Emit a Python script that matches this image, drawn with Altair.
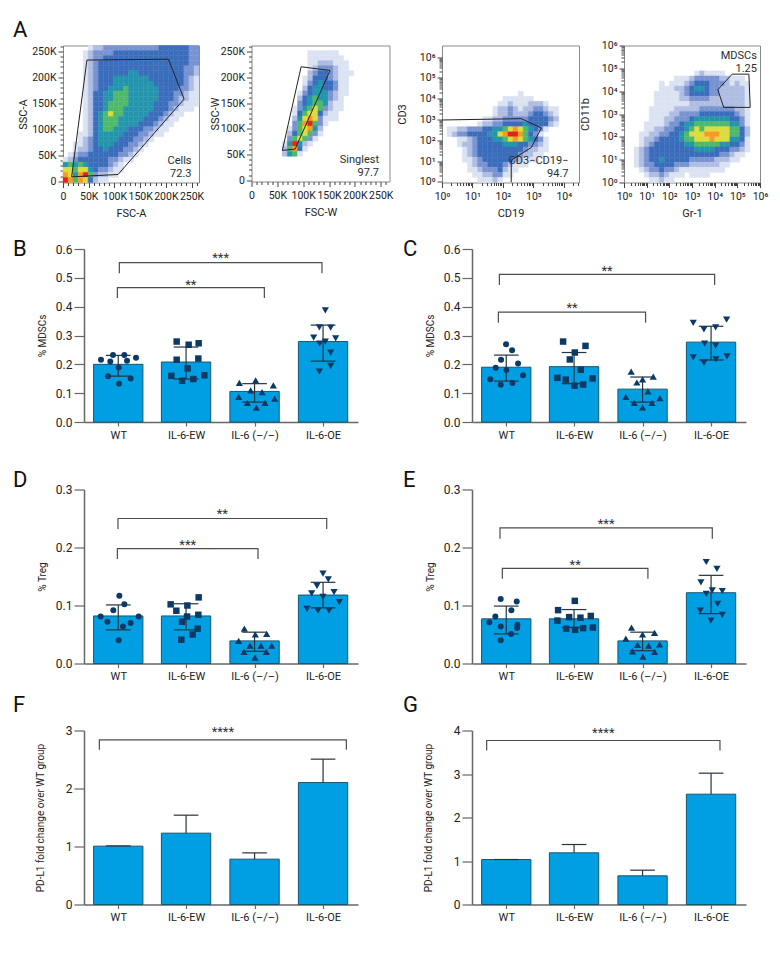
import altair as alt
import pandas as pd
import math

FONT = "Roboto"
groups = ["WT", "IL-6-EW", "IL-6 (–/–)", "IL-6-OE"]
centers = [0.5, 1.49, 2.49, 3.49]
shapes = ["circle", "square", "triangle-up", "triangle-down"]
sizes = [36, 42, 52, 52]
BAR = "#009fe3"; EDGE = "#17566f"; DOT = "#0b3a66"; AX = "#666666"; INK = "#2c2c2c"

# ---- bar panels: means, sd low, sd high
B_mean = [.200, .208, .106, .279]; B_lo = [.159, .149, .069, .211]; B_hi = [.231, .260, .133, .336]
C_mean = [.190, .192, .114, .277]; C_lo = [.142, .133, .069, .215]; C_hi = [.232, .241, .156, .332]
D_mean = [.082, .082, .039, .118]; D_lo = [.058, .058, .021, .096]; D_hi = [.101, .103, .054, .140]
E_mean = [.077, .077, .039, .122]; E_lo = [.051, .062, .022, .086]; E_hi = [.099, .093, .054, .152]
F_mean = [1.006, 1.23, .782, 2.103]; F_hi = [1.01, 1.54, .89, 2.506]
G_mean = [1.034, 1.188, .659, 2.536]; G_hi = [1.034, 1.379, .789, 3.019]

# ---- individual animals (x position within the axis, value), one list per group
B_x = [[.248,.384,.423,.589,.628,.759,.506,.350,.681,.511],
       [1.353,1.528,1.674,1.353,1.669,1.513,1.275,1.757,1.431,1.596],
       [2.268,2.506,2.764,2.433,2.599,2.258,2.783,2.384,2.642,2.516],
       [3.523,3.436,3.601,3.353,3.674,3.523,3.440,3.601,3.601,3.436]]
B_y = [[.216,.210,.232,.232,.212,.223,.189,.159,.151,.133],
       [.279,.268,.273,.216,.220,.186,.160,.162,.143,.149],
       [.136,.144,.127,.110,.104,.087,.081,.066,.066,.050],
       [.387,.328,.327,.293,.290,.279,.272,.241,.195,.175]]
C_x = [[.497,.585,.424,.672,.346,.502,.745,.268,.590,.419],
       [1.330,1.657,1.501,1.428,1.588,1.247,1.369,1.759,1.496,1.622],
       [2.324,2.490,2.646,2.407,2.568,2.246,2.743,2.368,2.626,2.490],
       [3.230,3.717,3.386,3.557,3.396,3.557,3.230,3.722,3.386,3.561]]
C_y = [[.270,.249,.216,.203,.188,.180,.162,.148,.135,.129],
       [.279,.264,.241,.217,.181,.153,.147,.151,.126,.130],
       [.175,.148,.157,.137,.106,.087,.083,.066,.066,.051],
       [.344,.355,.321,.328,.272,.265,.224,.228,.205,.217]]
D_x = [[.516,.589,.428,.243,.798,.341,.681,.569,.506],
       [1.674,1.265,1.509,1.348,1.669,1.504,1.431,1.659,1.586,1.421],
       [2.341,2.501,2.667,2.258,2.423,2.584,2.740,2.336,2.662,2.496],
       [3.489,3.567,3.401,3.324,3.650,3.489,3.727,3.255,3.416,3.577]]
D_y = [[.117,.102,.092,.081,.081,.072,.070,.064,.040],
       [.114,.102,.100,.091,.084,.081,.072,.060,.050,.041],
       [.060,.050,.051,.039,.031,.031,.031,.020,.020,.010],
       [.155,.145,.134,.121,.123,.115,.106,.094,.091,.091]]
E_x = [[.419,.653,.575,.341,.253,.663,.419,.658,.570,.419],
       [1.501,1.257,1.418,1.583,1.734,1.247,1.374,1.505,1.622,1.764],
       [2.329,2.490,2.665,2.246,2.417,2.577,2.738,2.343,2.665,2.494],
       [3.420,3.576,3.342,3.508,3.654,3.420,3.586,3.333,3.654,3.488]]
E_y = [[.111,.107,.092,.081,.071,.067,.064,.061,.051,.040],
       [.108,.092,.080,.079,.082,.074,.060,.058,.061,.062],
       [.062,.050,.053,.043,.032,.031,.033,.021,.020,.012],
       [.175,.163,.140,.126,.125,.120,.103,.091,.084,.074]]

# ---- significance brackets: x from, x to, y top, y drop, stars, star y
B_br = [(.516,3.474,.553,.516,"***",.569), (.487,2.633,.466,.430,"**",.476)]
C_br = [(.400,3.542,.512,.475,"**",.525), (.385,2.534,.381,.344,"**",.395)]
D_br = [(.496,3.543,.250,.232,"**",.257), (.487,2.540,.198,.180,"***",.205)]
E_br = [(.409,3.508,.234,.215,"***",.240), (.443,2.568,.164,.146,"**",.170)]
F_br = [(.224,3.830,2.84,2.667,"****",2.97)]
G_br = [(.214,3.620,3.77,3.54,"****",3.95)]

# ---- flow cytometry: event density, top row first (0 empty .. 9 red)
A1_rows = ["000001223333333333344444433","000012333344444444444444433","000012334444444444444444433",
"000012344444444444444444433","000012344444444444444444332","000012344444455444444444332",
"000012344455555554444444321","000012344455555555444444321","000012344555655555544443321",
"000012445566655555544433211","000012445566655555544432211","000012445666655555444332111",
"000012445666555555444321110","000012456766555554443211000","000012456665555544432110000",
"000012456665555444321100000","000012456655544433211000000","000112455555444332110000000",
"000123455554443321000000000","001123455544433210000000000","001223445444332100000000000",
"012334444443321000000000000","123444444332110000000000000","565654444321000000000000000",
"776775433211000000000000000","875896322110000000000000000","986874211000000000000000000"]
A2_rows = ["000000000000000000000000000","000000000001111110000000000","000000000001111111000000000",
"000000000001122211100000000","000000000001233321100000000","000000000002344321110000000",
"000000000012444321100000000","000000000013454431100000000","000000000024554431100000000",
"000000000134555321100000000","000000000245655321000000000","000000000345665211000000000",
"000000001356763211000000000","000000001467742110000000000","000000002578731110000000000",
"000000003689631000000000000","000000013678520000000000000","000000024676310000000000000",
"000000036763100000000000000","000000159521000000000000000","000000268410000000000000000",
"000000256100000000000000000"]
A3_rows = ["","","","","","","","","","000000000000000100000000000","000000000000111111000000000",
"000000000001121112221000000","000000000012232122332110000","000000000012232223443210000",
"000000001122333334444320000","000000012233444454444210000","011223334455678765431000000",
"012334444557899864310000000","000112344455678765431000000","000122344444555443321000000",
"000012344444444432211000000","000012344444444322110000000","000011234444443211100000000",
"000001233444321110000000000","000001123334211000000000000","000000112233110000000000000",
"000000011121000000000000000"]
A4_rows = ["","","","","","000000000000001211110000000","000000000011123333322111000",
"000000010111234443332121100","000000011122345543322222100","000000111112344443322222100",
"000000111112233332222222100","000000111111122222222222100","000001111122222333333322100",
"000001111223333444444432100","000001112233345555555443100","000011112334556666666553100",
"000011223344567677777664200","000112233445677788877664200","000122344445667778777554100",
"000123444444556666655443100","001234444444445555444332100","001234444444444444433211000",
"001234454444433333222110000","001233444433322222211000000","000123343321111111110000000",
"000012232111011110000000000","000001121100000000000000000"]
density_colors = ["#ffffff","#dbe2f2","#afbde2","#7893d2","#3a6dbb","#2395ad","#4fb96a","#dcdc3c","#f59a23","#e0261c"]

A1_gate = [(16800,8400),(46500,233000),(205000,234600),(235500,158000),(107000,12900),(16800,8400)]
A2_gate = [(59700,58000),(96000,220600),(152000,213500),(84400,60600),(59700,58000)]
A3_gate = [(1,942),(402,1093),(1835,387),(859,45),(188,11.1),(188,.93)]
A4_gate = [(13680,11500),(59000,55600),(323000,55600),(370000,1950),(25200,1950),(13680,11500)]

sup = ["10⁰","10¹","10²","10³","10⁴","10⁵","10⁶"]
LOG_LABEL = "[" + ",".join(f"'{s}'" for s in sup) + "][round(log(datum.value)/LN10)]"
K_LABEL = "datum.value==0?'0':(datum.value/1000)+'K'"

def letter(t, dx, dy):
    return alt.TitleParams(t, anchor="start", frame="group", orient="top", offset=0, dx=dx, dy=dy, fontSize=22,
                           font=FONT, fontWeight="normal", color="#111111")

def flow(rows, gate, notes, xdom, ydom, log, xtitle, ytitle, w, h, title, ypad, xmaj, ymaj, xmin, ymin):
    stype = "log" if log[1] else "linear"
    xtype = "log" if log[0] else "linear"
    xs = alt.Scale(domain=xdom, type=xtype, nice=False)
    ys = alt.Scale(domain=ydom, type=stype, nice=False)
    def edge(dom, isl, f):
        if isl:
            a, b = math.log10(dom[0]), math.log10(dom[1])
            return 10 ** (a + (b - a) * f)
        return dom[0] + (dom[1] - dom[0]) * f
    n = 27
    cells = []
    for r, row in enumerate(rows):
        for c, ch in enumerate(row):
            if ch != "0":
                cells.append(dict(x=edge(xdom, log[0], c / n), x2=edge(xdom, log[0], (c + 1) / n),
                                  y=edge(ydom, log[1], 1 - r / n), y2=edge(ydom, log[1], 1 - (r + 1) / n),
                                  c=density_colors[int(ch)]))
    xa = dict(title=xtitle, values=xmaj, tickSize=5, labelExpr=LOG_LABEL if log[0] else K_LABEL, titlePadding=5, labelPadding=4,
              orient="bottom", labelFontSize=10.5, domain=False, labelOverlap=False, labelFlush=False)
    ya = dict(title=ytitle, values=ymaj, tickSize=5, labelExpr=LOG_LABEL if log[1] else K_LABEL, titlePadding=ypad,
              orient="left", labelFontSize=10.5, domain=False, labelOverlap=False, labelFlush=False)
    rects = alt.Chart(pd.DataFrame(cells)).mark_rect(strokeWidth=.4).encode(
        x=alt.X("x:Q", scale=xs, axis=alt.Axis(**xa)), x2="x2:Q",
        y=alt.Y("y:Q", scale=ys, axis=alt.Axis(**ya)), y2="y2:Q",
        color=alt.Color("c:N", scale=None), stroke=alt.Stroke("c:N", scale=None))
    minor = alt.Chart(pd.DataFrame({"x": [xdom[0]], "y": [ydom[1]]})).mark_point(opacity=0).encode(
        x=alt.X("x:Q", scale=xs, axis=alt.Axis(title=None, values=xmin, tickSize=3, labels=False, domain=False, orient="bottom")),
        y=alt.Y("y:Q", scale=ys, axis=alt.Axis(title=None, values=ymin, tickSize=3, labels=False, domain=False, orient="left")))
    gdf = pd.DataFrame([dict(x=p[0], y=p[1], o=i) for i, p in enumerate(gate)])
    g = alt.Chart(gdf).mark_line(color="#222222", strokeWidth=1, clip=True).encode(
        x=alt.X("x:Q", scale=xs, axis=None), y=alt.Y("y:Q", scale=ys, axis=None), order="o:Q")
    t = alt.Chart(pd.DataFrame([dict(x=a, y=b, t=s) for a, b, s in notes])).mark_text(
        align="right", baseline="middle", font=FONT, fontSize=11, color=INK).encode(
        x=alt.X("x:Q", scale=xs, axis=None), y=alt.Y("y:Q", scale=ys, axis=None), text="t:N")
    return alt.layer(rects, minor, g, t, title=letter(*title) if title else alt.Undefined,
                     view=alt.ViewConfig(stroke="#8a8a8a", strokeWidth=1)).resolve_axis(
        x="independent", y="independent").properties(width=w, height=h)

def panel(mean, hi, lo, xs_pts, ys_pts, br, ymax, yvals, yfmt, ytitle, title, ypad, w=274, h=174, lead=0):
    xs = alt.Scale(domain=[0, 4], nice=False, range=[lead, w + lead])
    ys = alt.Scale(domain=[0, ymax], nice=False)
    label_expr = "datum.value<1?'%s':datum.value<2?'%s':datum.value<3?'%s':'%s'" % tuple(groups)
    bars = pd.DataFrame(dict(x=[c - .36 for c in centers], x2=[c + .36 for c in centers], y=mean, y0=[0] * 4))
    X = lambda f: alt.X(f, scale=xs)
    Y = lambda f: alt.Y(f, scale=ys)
    layers = [alt.Chart(bars).mark_rect(fill=BAR, stroke=EDGE, strokeWidth=1).encode(
        x=alt.X("x:Q", scale=xs, axis=alt.Axis(title=None, values=centers, labelExpr=label_expr, tickSize=4,
                                               domainColor=AX, tickColor=AX, domainWidth=1.5, tickWidth=1.2,
                                               labelFontSize=11, labelPadding=3, labelFlush=False, labelOverlap=False)),
        x2="x2:Q",
        y=alt.Y("y:Q", scale=ys, axis=alt.Axis(title=ytitle, values=yvals, format=yfmt, tickSize=10, domainColor=AX,
                                               tickColor=AX, domainWidth=1.5, tickWidth=1.2, labelFontSize=12,
                                               labelOverlap=False, labelFlush=False, tickCount=len(yvals), offset=-lead,
                                               titleFontSize=10, titleFontWeight="normal", titlePadding=ypad)),
        y2="y0:Q")]
    lows = lo if lo is not None else mean
    err = pd.DataFrame(dict(x=centers, a=lows, b=hi, l=[c - .18 for c in centers], r=[c + .18 for c in centers]))
    enc = dict(color=alt.value("#26343f"))
    layers.append(alt.Chart(err).mark_rule(strokeWidth=1.2).encode(x=X("x:Q"), y=Y("a:Q"), y2="b:Q", **enc))
    layers.append(alt.Chart(err).mark_rule(strokeWidth=1.2).encode(x=X("l:Q"), x2="r:Q", y=Y("b:Q"), **enc))
    if lo is not None:
        layers.append(alt.Chart(err).mark_rule(strokeWidth=1.2).encode(x=X("l:Q"), x2="r:Q", y=Y("a:Q"), **enc))
    if xs_pts is not None:
        for i in range(4):
            df = pd.DataFrame(dict(x=xs_pts[i], y=ys_pts[i]))
            layers.append(alt.Chart(df).mark_point(filled=True, shape=shapes[i], size=sizes[i], color=DOT, opacity=1).encode(
                x=X("x:Q"), y=Y("y:Q")))
    rows, stars = [], []
    for k, (a, b, top, drop, s, sy) in enumerate(br):
        for o, (px, py) in enumerate([(a, drop), (a, top), (b, top), (b, drop)]):
            rows.append(dict(x=px, y=py, o=o, k=k))
        stars.append(dict(x=(a + b) / 2, y=sy, t=s))
    layers.append(alt.Chart(pd.DataFrame(rows)).mark_line(color="#4d4d4d", strokeWidth=1.2).encode(
        x=X("x:Q"), y=Y("y:Q"), detail="k:N", order="o:Q"))
    layers.append(alt.Chart(pd.DataFrame(stars)).mark_text(font=FONT, fontSize=13, baseline="middle", color="#333333").encode(
        x=X("x:Q"), y=Y("y:Q"), text="t:N"))
    return alt.layer(*layers, title=letter(*title)).properties(width=w + lead, height=h)

k_major = [0, 50000, 100000, 150000, 200000, 250000]
k_minor = [v * 10000 for v in range(0, 27) if v % 5]
dec = [10 ** i for i in range(7)]
dec_minor = [m * 10 ** i for i in range(6) for m in range(2, 10)]

A1 = flow(A1_rows, A1_gate, [(250000, 39000, "Cells"), (250000, 13500, "72.3")], [0, 264500], [-2500, 261000],
          (False, False), "FSC-A", "SSC-A", 136, 137, ("A", -50, -1), 3, k_major, k_major,
          [v for v in k_minor if v < 264500], [v for v in k_minor if v < 261000])
A2 = flow(A2_rows, A2_gate, [(246800, 38700, "Singlest"), (246800, 14000, "97.7")], [0, 267000], [-2500, 262000],
          (False, False), "FSC-W", "SSC-W", 138, 136, None, 0, k_major, k_major,
          [v for v in k_minor if v < 267000], [v for v in k_minor if v < 262000])
A3 = flow(A3_rows, A3_gate, [(14260, 10.3, "CD3−CD19−"), (14260, 2.34, "94.7")], [1, 31600], [.93, 3600000],
          (True, True), "CD19", "CD3", 137, 137, None, 12, dec[:5], dec,
          [v for v in dec_minor if v < 31600], dec_minor)
A4 = flow(A4_rows, A4_gate, [(731000, 363000, "MDSCs"), (731000, 89000, "1.25")], [1, 1000000], [1, 1000000],
          (True, True), "Gr-1", "CD11b", 136, 137, None, 11, dec, dec, dec_minor, dec_minor)

B = panel(B_mean, B_hi, B_lo, B_x, B_y, B_br, .6, [0, .1, .2, .3, .4, .5, .6], ".1f", "% MDSCs", ("B", -50, 18), 8, h=173, lead=21)
C = panel(C_mean, C_hi, C_lo, C_x, C_y, C_br, .6, [0, .1, .2, .3, .4, .5, .6], ".1f", "% MDSCs", ("C", -69, 18), 8, h=173)
D = panel(D_mean, D_hi, D_lo, D_x, D_y, D_br, .3, [0, .1, .2, .3], ".1f", "% Treg", ("D", -50, 8.5), 8, lead=21)
E = panel(E_mean, E_hi, E_lo, E_x, E_y, E_br, .3, [0, .1, .2, .3], ".1f", "% Treg", ("E", -69, 8.5), 8)
F = panel(F_mean, F_hi, None, None, None, F_br, 3, [0, 1, 2, 3], "d", "PD-L1 fold change over WT group", ("F", -50, -8), 20, lead=21)
G = panel(G_mean, G_hi, None, None, None, G_br, 4, [0, 1, 2, 3, 4], "d", "PD-L1 fold change over WT group", ("G", -69, -8), 20)

top_row = alt.hconcat(alt.hconcat(alt.hconcat(A1, A2, spacing=3.5), A3, spacing=1), A4, spacing=-2)
row2 = alt.hconcat(B, C, spacing=45)
row3 = alt.hconcat(D, E, spacing=45)
row4 = alt.hconcat(F, G, spacing=45)
chart = alt.vconcat(alt.vconcat(alt.vconcat(top_row, row2, spacing=19.5), row3, spacing=28), row4, spacing=12
).properties(padding={"left": 4, "top": 9.5, "right": 0, "bottom": 0}).configure_view(stroke=None).configure_axis(
    grid=False, labelFont=FONT, titleFont=FONT, titleFontWeight="normal", labelColor="#222222", titleColor="#222222",
    titleFontSize=11, tickColor="#444444")

chart.save("out.html", embed_options={"renderer": "svg", "actions": False})
